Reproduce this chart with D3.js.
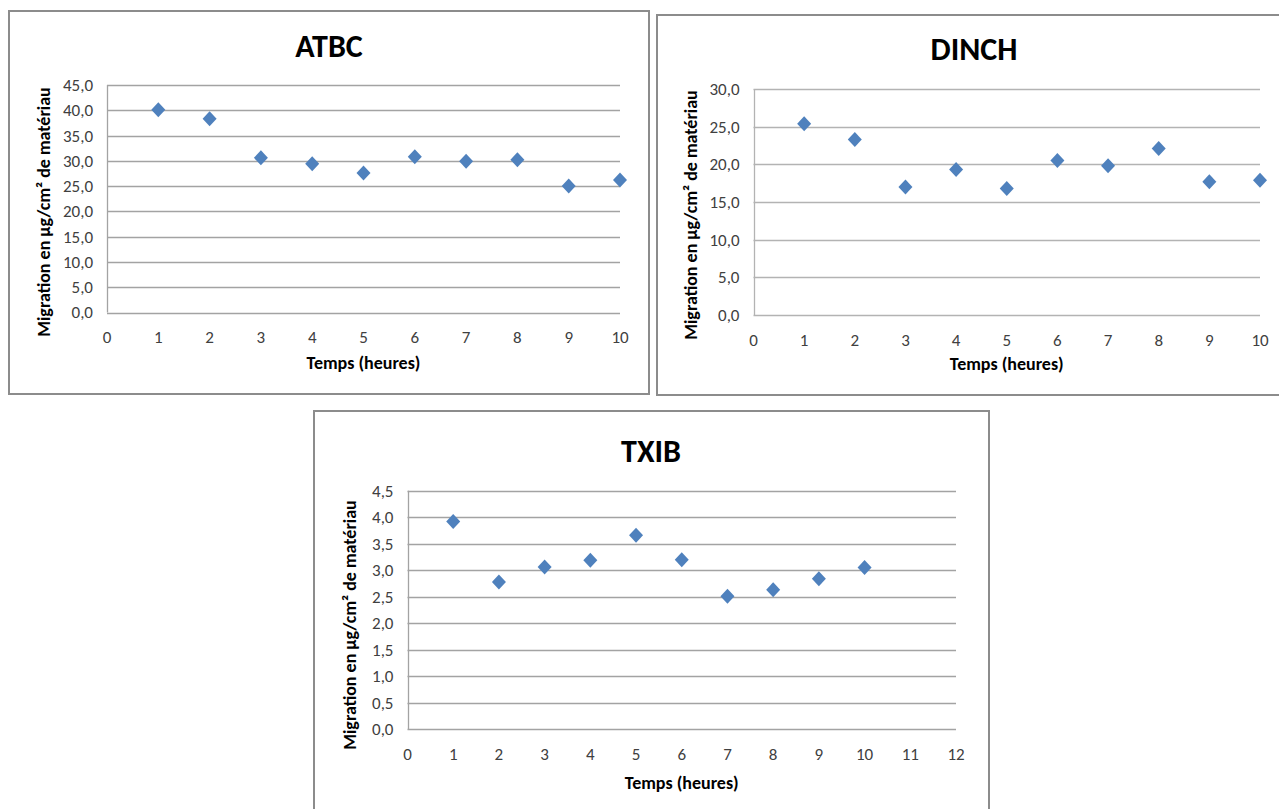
<!DOCTYPE html>
<html>
<head>
<meta charset="utf-8">
<script src="https://cdn.jsdelivr.net/npm/d3@7"></script>
<style>
  body { margin: 0; background: #fff; }
  svg { display: block; font-family: Carlito, Lato, "Liberation Sans", sans-serif; }
</style>
</head>
<body>
<div id="chart"></div>
<script>
// heures (x) and migration values
const hours = [1, 2, 3, 4, 5, 6, 7, 8, 9, 10];
const atbcValues = [40.1, 38.3, 30.6, 29.4, 27.6, 30.8, 29.9, 30.2, 25.0, 26.2];
const dinchValues = [25.4, 23.3, 17.0, 19.3, 16.8, 20.5, 19.8, 22.1, 17.7, 17.9];
const txibValues = [3.92, 2.78, 3.06, 3.19, 3.66, 3.20, 2.51, 2.63, 2.84, 3.05];

const atbcYTicks = [0, 5, 10, 15, 20, 25, 30, 35, 40, 45];
const dinchYTicks = [0, 5, 10, 15, 20, 25, 30];
const txibYTicks = [0, 0.5, 1, 1.5, 2, 2.5, 3, 3.5, 4, 4.5];
const xTicks10 = [0, 1, 2, 3, 4, 5, 6, 7, 8, 9, 10];
const xTicks12 = [0, 1, 2, 3, 4, 5, 6, 7, 8, 9, 10, 11, 12];

const yTitle = "Migration en µg/cm² de matériau";
const xTitle = "Temps (heures)";

const svg = d3.select("#chart")
    .append("svg")
    .attr("width", 1279)
    .attr("height", 809);

const fmt = v => d3.format(".1f")(v).replace(".", ",");

function drawPanel(p) {

    const g = svg.append("g");

    // frame
    g.append("rect")
        .attr("x", p.box[0])
        .attr("y", p.box[1])
        .attr("width", p.box[2])
        .attr("height", p.box[3])
        .attr("fill", "#fff")
        .attr("stroke", "#8c8c8c")
        .attr("stroke-width", 2);

    const x = d3.scaleLinear().domain([0, p.xMax]).range([p.left, p.right]);
    const y = d3.scaleLinear().domain([0, p.yMax]).range([p.bottom, p.top]);

    // horizontal gridlines
    g.selectAll(".grid")
        .data(p.yTicks)
        .enter()
        .append("line")
        .attr("x1", p.left)
        .attr("x2", p.right)
        .attr("y1", d => Math.round(y(d)) + 0.5)
        .attr("y2", d => Math.round(y(d)) + 0.5)
        .attr("stroke", p.gridColor)
        .attr("stroke-width", 1.3);

    // vertical axis line
    g.append("line")
        .attr("x1", Math.round(p.left) + 0.5)
        .attr("x2", Math.round(p.left) + 0.5)
        .attr("y1", y(p.yMax))
        .attr("y2", y(0))
        .attr("stroke", p.gridColor)
        .attr("stroke-width", 1.3);

    // y tick labels
    g.selectAll(".ylab")
        .data(p.yTicks)
        .enter()
        .append("text")
        .attr("x", p.left - 14)
        .attr("y", d => y(d))
        .attr("dy", "0.35em")
        .attr("text-anchor", "end")
        .attr("font-size", 17)
        .attr("fill", "#404040")
        .text(fmt);

    // x tick labels
    g.selectAll(".xlab")
        .data(p.xTicks)
        .enter()
        .append("text")
        .attr("x", d => x(d))
        .attr("y", p.bottom + 25)
        .attr("dy", "0.35em")
        .attr("text-anchor", "middle")
        .attr("font-size", 17)
        .attr("fill", "#404040")
        .text(d => d);

    // points (diamonds)
    g.selectAll(".pt")
        .data(hours.map((h, i) => ({ h, v: p.values[i] })))
        .enter()
        .append("path")
        .attr("d", d => {
            const cx = x(d.h), cy = y(d.v);
            return `M${cx},${cy - 7.5}L${cx + 7},${cy}L${cx},${cy + 7.5}L${cx - 7},${cy}Z`;
        })
        .attr("fill", "#4f81bd");

    // titles
    g.append("text")
        .attr("x", p.titlePos[0])
        .attr("y", p.titlePos[1])
        .attr("text-anchor", "middle")
        .attr("font-size", 32)
        .attr("font-weight", "bold")
        .attr("fill", "#000")
        .text(p.title);

    g.append("text")
        .attr("x", (p.left + p.right) / 2)
        .attr("y", p.xTitleY)
        .attr("dy", "0.35em")
        .attr("text-anchor", "middle")
        .attr("font-size", 18)
        .attr("font-weight", "bold")
        .attr("fill", "#000")
        .text(xTitle);

    g.append("text")
        .attr("transform", `translate(${p.yTitlePos[0]},${p.yTitlePos[1]}) rotate(-90)`)
        .attr("dy", "0.35em")
        .attr("text-anchor", "middle")
        .attr("font-size", 18)
        .attr("font-weight", "bold")
        .attr("fill", "#000")
        .text(yTitle);
}

drawPanel({
    title: "ATBC", values: atbcValues, yTicks: atbcYTicks, xTicks: xTicks10,
    xMax: 10, yMax: 45,
    box: [9, 11, 640, 383],
    left: 107, right: 620, top: 85, bottom: 312.5,
    gridColor: "#a3a3a3",
    titlePos: [329, 57], xTitleY: 363, yTitlePos: [44, 212]
});

drawPanel({
    title: "DINCH", values: dinchValues, yTicks: dinchYTicks, xTicks: xTicks10,
    xMax: 10, yMax: 30,
    box: [657, 15, 640, 380],
    left: 753.5, right: 1260, top: 89, bottom: 315,
    gridColor: "#b3b3b3",
    titlePos: [974, 60], xTitleY: 364, yTitlePos: [691, 215]
});

drawPanel({
    title: "TXIB", values: txibValues, yTicks: txibYTicks, xTicks: xTicks12,
    xMax: 12, yMax: 4.5,
    box: [314, 411, 675, 420],
    left: 407.5, right: 956, top: 490.7, bottom: 729.3,
    gridColor: "#a3a3a3",
    titlePos: [651, 462], xTitleY: 783, yTitlePos: [350, 625]
});
</script>
</body>
</html>
